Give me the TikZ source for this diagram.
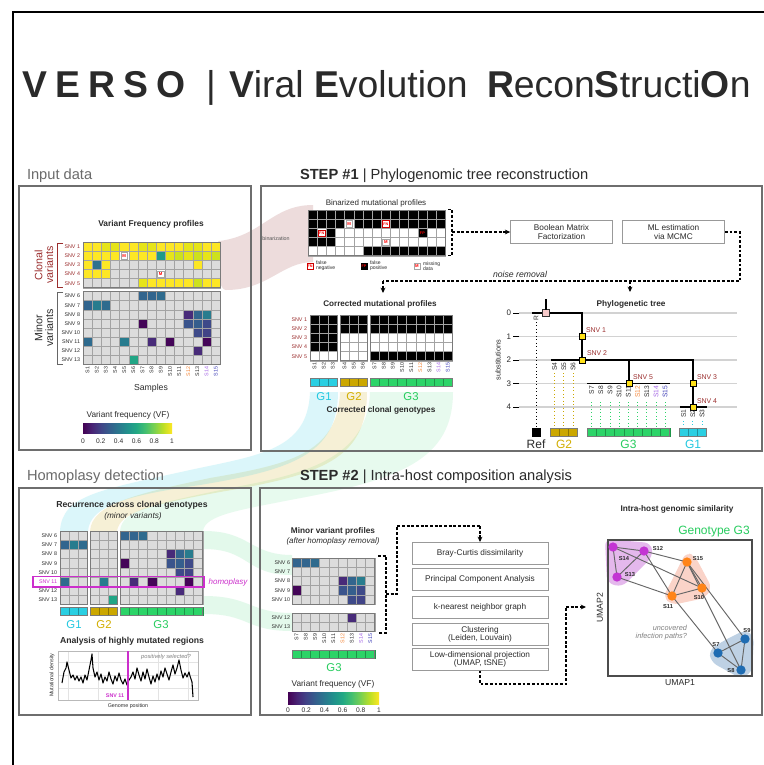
\documentclass[tikz,border=0pt]{standalone}
\usepackage{fontspec}
\setmainfont{Liberation Sans}
\usetikzlibrary{arrows.meta,calc}
\definecolor{gcell}{HTML}{DCDCDC}
\definecolor{cline}{HTML}{A3A3A3}
\definecolor{bline}{HTML}{7A7A7A}
\definecolor{pborder}{HTML}{6E6E6E}
\definecolor{snvred}{HTML}{9B2D2D}
\definecolor{txt}{HTML}{2B2B2B}
\definecolor{titlek}{HTML}{2A2A2A}
\definecolor{titlegray}{HTML}{6B6B6B}
\definecolor{Y10}{HTML}{FDE725}
\definecolor{Y9}{HTML}{E6E419}
\definecolor{Y8}{HTML}{CDE11D}
\definecolor{T55}{HTML}{1F9A8A}
\definecolor{B35}{HTML}{2C728E}
\definecolor{B33}{HTML}{2F6B8E}
\definecolor{B30}{HTML}{32658E}
\definecolor{B40}{HTML}{287C8E}
\definecolor{B28}{HTML}{355E8D}
\definecolor{B25}{HTML}{3A548C}
\definecolor{B22}{HTML}{3E4A89}
\definecolor{B20}{HTML}{414487}
\definecolor{P15}{HTML}{482B79}
\definecolor{P0}{HTML}{440558}
\definecolor{G60}{HTML}{21A585}
\definecolor{v0}{HTML}{440154}
\definecolor{v1}{HTML}{482475}
\definecolor{v2}{HTML}{414487}
\definecolor{v3}{HTML}{355F8D}
\definecolor{v4}{HTML}{2A788E}
\definecolor{v5}{HTML}{21918C}
\definecolor{v6}{HTML}{22A884}
\definecolor{v7}{HTML}{44BF70}
\definecolor{v8}{HTML}{7AD151}
\definecolor{v9}{HTML}{BDDF26}
\definecolor{v10}{HTML}{FDE725}
\definecolor{gone}{HTML}{2ACFE2}
\definecolor{gtwo}{HTML}{CBA700}
\definecolor{gthree}{HTML}{2CD468}
\definecolor{gonet}{HTML}{22C8E0}
\definecolor{gtwot}{HTML}{D2AE00}
\definecolor{gthreet}{HTML}{27CC5E}
\definecolor{sorange}{HTML}{F4873A}
\definecolor{spurple}{HTML}{A567E6}
\definecolor{sblue}{HTML}{3F3FB8}
\definecolor{umapm}{HTML}{C334D3}
\definecolor{umapo}{HTML}{FF8418}
\definecolor{umapb}{HTML}{1F6CB2}
\definecolor{hullm}{HTML}{E4B8EC}
\definecolor{hullo}{HTML}{FAD3C8}
\definecolor{hullb}{HTML}{BED1E4}
\definecolor{magline}{HTML}{CC2FCC}
\definecolor{treegrid}{HTML}{D2D2D2}
\definecolor{snvsq}{HTML}{FFE119}
\definecolor{rootsq}{HTML}{F6C9C9}
\definecolor{ribpink}{HTML}{E2C6C6}
\colorlet{K}{black}
\colorlet{W}{white}
\pgfdeclarehorizontalshading{viridis}{100bp}{color(0bp)=(v0); color(25bp)=(v0); color(30bp)=(v1); color(35bp)=(v2); color(40bp)=(v3); color(45bp)=(v4); color(50bp)=(v5); color(55bp)=(v6); color(60bp)=(v7); color(65bp)=(v8); color(70bp)=(v9); color(75bp)=(v10); color(100bp)=(v10)}
\newcommand\fsz[1]{\fontsize{#1}{#1}\selectfont}
\newcommand\hmcell[5]{\filldraw[fill=#5,draw=cline,line width=0.35pt] ({#1+(#3-1)*\cs},{#2+(#4-1)*\cs}) rectangle ++(\cs,\cs);}
\newcommand\hmgrid[5]{\foreach \ii in {1,...,#3}{\foreach \jj in {1,...,#4}{\hmcell{#1}{#2}{\ii}{\jj}{#5}}}}
\newcommand\hmframe[4]{\draw[bline,line width=0.6pt] (#1,#2) rectangle ++({#3*\cs},{#4*\cs});}
\newcommand\hmbar[4]{\foreach \ii in {1,...,#3}{\filldraw[fill=#4,draw=#4!70!black,line width=0.3pt] ({#1+(\ii-1)*\cs},#2) rectangle ++(\cs,8.5);}\draw[bline,line width=0.5pt] (#1,#2) rectangle ++({#3*\cs},8.5);}
\def\slistA{S1/txt,S2/txt,S3/txt,S4/txt,S5/txt,S6/txt,S7/txt,S8/txt,S9/txt,S10/txt,S11/txt,S12/sorange,S13/txt,S14/spurple,S15/sblue}
\def\slistG{S7/txt,S8/txt,S9/txt,S10/txt,S11/txt,S12/sorange,S13/txt,S14/spurple,S15/sblue}
\begin{document}
\begin{tikzpicture}[x=0.75pt,y=-0.75pt,
  every node/.style={inner sep=0pt,outer sep=0pt,text=txt},
  panel/.style={draw=pborder,line width=0.9pt},
  sectitle/.style={anchor=base west,font=\fsz{11}},
  subtitle/.style={font=\fsz{6.3}\bfseries},
  rowlab/.style={anchor=east,font=\fsz{4}},
  collab/.style={rotate=90,anchor=east,font=\fsz{4}},
  dashar/.style={dash pattern=on 2.2pt off 1.3pt,line width=0.8pt,draw=black},
  arrowtip/.style={-{Stealth[length=4pt,width=3.6pt]}},
  algbox/.style={draw=gray!80,line width=0.6pt,fill=white,align=center,font=\fsz{6.2}},
  snvsqr/.style={draw=black,fill=snvsq,line width=0.5pt,minimum size=4.6pt},
  glab/.style={font=\fsz{8.5}},
  cbtick/.style={font=\fsz{5}},
  mkM/.style={draw=gray!70,fill=white,text=red,font=\fsz{3.2}\bfseries,minimum size=4.6pt},
  mkFN/.style={draw=red!80!black,fill=white,text=red,font=\fsz{2.8}\bfseries,minimum size=4.6pt},
  mkFP/.style={draw=black,fill=black,text=red,font=\fsz{2.8}\bfseries,minimum size=4.6pt},
  treel/.style={black,line width=1.1pt},
  umapnode/.style={circle,minimum size=7pt},
  ulab/.style={font=\fsz{4.3}\bfseries},
  uedge/.style={draw=gray!80!black,line width=0.7pt},
]
\useasboundingbox (0,0) rectangle (764,765);
\fill[white] (0,0) rectangle (764,765);

% ---------- ribbons ----------
\fill[ribpink,opacity=0.6] (219,241) .. controls (262,236) and (272,205) .. (313,205) -- (313,262) .. controls (282,262) and (268,290) .. (226,290) .. controls (216,290) and (214,242) .. (219,241) -- cycle;
\fill[gthree,opacity=0.11] (370,392) .. controls (368,460) and (300,475) .. (230,488) .. controls (150,505) and (122,510) .. (120,531) -- (203,531) .. controls (205,515) and (240,510) .. (290,500) .. controls (400,480) and (453,460) .. (453,392) -- cycle;
\fill[gtwo,opacity=0.16] (340,392) .. controls (338,455) and (285,465) .. (210,478) .. controls (130,495) and (92,505) .. (90,531) -- (117,531) .. controls (120,512) and (150,505) .. (220,492) .. controls (320,475) and (367,460) .. (367,392) -- cycle;
\fill[gone,opacity=0.17] (310,392) .. controls (308,450) and (260,455) .. (190,470) .. controls (100,490) and (62,495) .. (60,531) -- (88,531) .. controls (90,505) and (130,495) .. (200,485) .. controls (290,470) and (338,455) .. (338,392) -- cycle;
\fill[gthree,opacity=0.13] (204,531) .. controls (250,531) and (250,555) .. (292,555) -- (292,575) .. controls (245,575) and (250,549) .. (204,549) -- cycle;
\fill[gthree,opacity=0.13] (204,596) .. controls (250,596) and (250,613) .. (292,613) -- (292,631) .. controls (245,631) and (250,614) .. (204,614) -- cycle;

% ---------- frame & panels ----------
\draw[black,line width=2pt] (13,765) -- (13,12) -- (764,12);
\draw[panel] (19,186) rectangle (251,450);
\draw[panel] (261,186) rectangle (762,451);
\draw[panel] (19,488) rectangle (251,715);
\draw[panel] (260,488) rectangle (762,715);

% ---------- title ----------
\node[anchor=base west,font=\fsz{28}\bfseries,text=titlek] (ttlA) at (22,97) {V\hskip.22em E\hskip.22em R\hskip.22em S\hskip.22em O};
\node[anchor=base west,font=\fsz{28},text=titlek] (ttlB) at (206,97) {|};
\node[anchor=base west,font=\fsz{28},text=titlek] (ttlC) at (229,97) {\textbf{V}iral \textbf{E}volution};
\node[anchor=base west,font=\fsz{28},text=titlek] (ttlD) at (487,97) {\textbf{R}econ\textbf{S}tructi\textbf{O}n};

\node[sectitle,text=titlegray] (tin) at (27,179) {Input data};
\node[sectitle] (ts1) at (300,179) {\textbf{STEP \#1} | Phylogenomic tree reconstruction};
\node[sectitle,text=titlegray] (tho) at (27,480) {Homoplasy detection};
\node[sectitle] (ts2) at (300,480) {\textbf{STEP \#2} | Intra-host composition analysis};

% ---------- Input data ----------
\node[subtitle] (vfpT) at (151,224) {Variant Frequency profiles};
\def\cs{9.15}
\foreach \row [count=\rr] in {{Y10,Y10,Y9,Y9,Y10,Y10,Y9,Y9,Y10,Y10,Y10,Y9,Y9,Y10,Y10},{Y10,Y10,Y10,Y10,W,Y10,Y10,Y10,T55,Y9,Y8,Y9,Y8,Y9,Y8},{Y10,B35,Y10,gcell,gcell,gcell,gcell,gcell,gcell,gcell,gcell,gcell,Y10,gcell,gcell},{Y10,Y10,Y10,gcell,gcell,gcell,gcell,gcell,W,gcell,gcell,gcell,gcell,gcell,gcell},{gcell,gcell,gcell,gcell,gcell,gcell,Y9,Y10,Y10,Y10,Y10,Y10,Y8,Y10,Y10}}{\foreach \cl [count=\kk] in \row {\hmcell{83}{242}{\kk}{\rr}{\cl}}}
\hmframe{83}{242}{15}{5}
\hmgrid{83}{291.5}{15}{8}{gcell}
\foreach \kk/\rr/\cl in {7/1/B30,8/1/B30,9/1/B33,1/2/B30,2/2/B40,3/2/B33,12/3/P15,13/3/B30,14/3/B40,7/4/P0,12/4/B25,13/4/B28,14/4/B22,13/5/B22,14/5/B20,1/6/B33,5/6/B40,8/6/P15,10/6/P0,14/6/P0,13/7/P15,6/8/G60}{\hmcell{83}{291.5}{\kk}{\rr}{\cl}}
\hmframe{83}{291.5}{15}{8}
\node[mkM] (imkA) at ({83+4.5*\cs},{242+1.5*\cs}) {M};
\node[mkM] (imkB) at ({83+8.5*\cs},{242+3.5*\cs}) {M};
\foreach \rr in {1,...,5}{\node[rowlab,text=snvred] (irl\rr) at (80,{242+(\rr-0.5)*\cs}) {SNV \rr};}
\foreach \rr [evaluate=\rr as \nn using int(\rr+5)] in {1,...,8}{\node[rowlab] (irm\rr) at (80,{291.5+(\rr-0.5)*\cs}) {SNV \nn};}
\foreach \s/\tc [count=\kk] in \slistA {\node[collab,text=\tc] (icl\kk) at ({83+(\kk-0.5)*\cs},367) {\s};}
\draw[snvred,line width=0.7pt] (63,243) -- (57,243) -- (57,287) -- (63,287);
\draw[gray!80!black,line width=0.7pt] (63,292) -- (57,292) -- (57,364) -- (63,364);
\node[rotate=90,align=center,font=\fsz{8},text=snvred] (clv) at (44,265) {Clonal\\variants};
\node[rotate=90,align=center,font=\fsz{8}] (mnv) at (44,328) {Minor\\variants};
\node[font=\fsz{6.5}] (smp) at (151,388) {Samples};
\node[font=\fsz{6.2}] (cbT) at (128,415) {Variant frequency (VF)};
\shade[shading=viridis] (83,423) rectangle (172,433);
\foreach \v [count=\kk from 0] in {0,0.2,0.4,0.6,0.8,1}{\node[cbtick] (icb\kk) at ({83+\kk*17.8},441) {\v};}

% ---------- STEP 1 : binarized ----------
\node[font=\fsz{6}] (binT) at (376,203) {Binarized mutational profiles};
\foreach \row [count=\rr] in {{K,K,K,K,K,K,K,K,K,K,K,K,K,K,K},{K,K,K,K,W,K,K,K,W,K,K,K,K,K,K},{K,W,K,W,W,W,W,W,W,W,W,W,K,W,W},{K,K,K,W,W,W,W,W,W,W,W,W,W,W,W},{W,W,W,W,W,W,K,K,K,K,K,K,K,K,K}}{\foreach \cl [count=\kk] in \row {\hmcell{308}{210}{\kk}{\rr}{\cl}}}
\hmframe{308}{210}{15}{5}
\node[mkM] (bmkA) at ({308+4.5*\cs},{210+1.5*\cs}) {M};
\node[mkFN] (bfnA) at ({308+8.5*\cs},{210+1.5*\cs}) {FN};
\node[mkFN] (bfnB) at ({308+1.5*\cs},{210+2.5*\cs}) {FN};
\node[mkFP] (bfpA) at ({308+12.5*\cs},{210+2.5*\cs}) {FP};
\node[mkM] (bmkB) at ({308+8.5*\cs},{210+3.5*\cs}) {M};
\node[font=\fsz{4},text=txt!80] (binz) at (276,239) {binarization};
\node[mkFN] (lgFN) at (310,266) {FN};
\node[anchor=west,align=left,font=\fsz{3.8}] (lgFNt) at (316,266) {false\\negative};
\node[mkFP] (lgFP) at (364,266) {FP};
\node[anchor=west,align=left,font=\fsz{3.8}] (lgFPt) at (370,266) {false\\positive};
\node[mkM] (lgM) at (417,266) {M};
\node[anchor=west,align=left,font=\fsz{3.8}] (lgMt) at (423,266) {missing\\data};
\draw[dashar] (448,209.5) -- (452,209.5) -- (452,255.5) -- (448,255.5);
\coordinate (bmid) at (452,232);
\node[algbox,minimum width=77pt,minimum height=17.25pt] (bmf) at (561.5,232) {Boolean Matrix\\Factorization};
\node[algbox,minimum width=77pt,minimum height=17.25pt] (mlm) at (673.5,232) {ML estimation\\via MCMC};
\draw[dashar,arrowtip] (bmid) -- (bmid -| bmf.west);
\coordinate (nrR) at (740,281);
\coordinate (nrA) at (383,281);
\coordinate (nrB) at (630,281);
\coordinate (nrAe) at (383,293);
\coordinate (nrBe) at (630,292);
\draw[dashar] (mlm.east) -| (nrR) -- (nrA);
\draw[dashar,arrowtip] (nrA) -- (nrAe);
\draw[dashar,arrowtip] (nrB) -- (nrBe);
\node[anchor=base west,font=\fsz{6.5}\itshape] (nrm) at (493,277) {noise removal};

% ---------- STEP 1 : corrected ----------
\node[subtitle,font=\fsz{6.1}\bfseries] (corT) at (380,304) {Corrected mutational profiles};
\foreach \cl [count=\rr] in {K,K,K,K,W}{\foreach \kk in {1,2,3}{\hmcell{310}{315}{\kk}{\rr}{\cl}}}
\foreach \cl [count=\rr] in {K,K,W,W,W}{\foreach \kk in {1,2,3}{\hmcell{340}{315}{\kk}{\rr}{\cl}}}
\foreach \cl [count=\rr] in {K,K,W,W,K}{\foreach \kk in {1,...,9}{\hmcell{370}{315}{\kk}{\rr}{\cl}}}
\hmframe{310}{315}{3}{5}\hmframe{340}{315}{3}{5}\hmframe{370}{315}{9}{5}
\foreach \rr in {1,...,5}{\node[rowlab,text=snvred] (crl\rr) at (307,{315+(\rr-0.5)*\cs}) {SNV \rr};}
\foreach \s [count=\kk] in {S1,S2,S3}{\node[collab] (ccA\kk) at ({310+(\kk-0.5)*\cs},363) {\s};}
\foreach \s [count=\kk] in {S4,S5,S6}{\node[collab] (ccB\kk) at ({340+(\kk-0.5)*\cs},363) {\s};}
\foreach \s/\tc [count=\kk] in \slistG {\node[collab,text=\tc] (ccC\kk) at ({370+(\kk-0.5)*\cs},363) {\s};}
\hmbar{310}{378}{3}{gone}\hmbar{340}{378}{3}{gtwo}\hmbar{370}{378}{9}{gthree}
\node[glab,text=gonet] (cg1) at (324,397) {G1};
\node[glab,text=gtwot] (cg2) at (354,397) {G2};
\node[glab,text=gthreet] (cg3) at (411,397) {G3};
\node[subtitle,font=\fsz{6.2}\bfseries] (ccgT) at (381,410) {Corrected clonal genotypes};

% ---------- STEP 1 : tree ----------
\node[subtitle,font=\fsz{6.2}\bfseries] (phT) at (631,304) {Phylogenetic tree};
\foreach \lv [count=\kk from 0] in {313,336.5,360,383.5,407}{
  \draw[treegrid,line width=1.3pt] (519,\lv) -- (737,\lv);
  \draw[black,line width=0.6pt] (513,\lv) -- (519,\lv);
  \node[anchor=east,font=\fsz{6}] (ylab\kk) at (511,\lv) {\kk};}
\node[rotate=90,font=\fsz{5.5}] (subs) at (498,360) {substitutions};
\draw[treel] (532,313) -- (582,313) -- (582,360);
\draw[treel] (551,360) -- (693,360) -- (693,407);
\draw[treel] (629,360) -- (629,383.5);
\draw[treel] (587,383.5) -- (670,383.5);
\draw[treel] (680,407) -- (707,407);
\node[draw=black!80,fill=rootsq,line width=0.5pt,minimum size=5pt] (root) at (546,313) {};
\draw[black,line width=1pt] (546,299) -- (root.north);
\node[snvsqr] (sq1) at (582,336.5) {};
\node[snvsqr] (sq2) at (582,360) {};
\node[snvsqr] (sq5) at (629,383.5) {};
\node[snvsqr] (sq3) at (693,383.5) {};
\node[snvsqr] (sq4) at (693,407) {};
\node[anchor=west,font=\fsz{5.2},text=snvred] (tl1) at (586,330) {SNV 1};
\node[anchor=west,font=\fsz{5.2},text=snvred] (tl2) at (587,353) {SNV 2};
\node[anchor=west,font=\fsz{5.2},text=snvred] (tl5) at (633,377) {SNV 5};
\node[anchor=west,font=\fsz{5.2},text=snvred] (tl3) at (697,377) {SNV 3};
\node[anchor=west,font=\fsz{5.2},text=snvred] (tl4) at (697,401) {SNV 4};
\node[collab,font=\fsz{5}] (lR) at (536,316) {R};
\draw[black,dotted,line width=0.6pt] (536,322) -- (536,428);
\foreach \s [count=\kk] in {S4,S5,S6}{\node[collab,font=\fsz{5}] (lB\kk) at ({550+(\kk-0.5)*9.2},362.5) {\s};
  \draw[gtwo,dotted,line width=0.6pt] ({550+(\kk-0.5)*9.2},373) -- ({550+(\kk-0.5)*9.2},428);}
\foreach \s/\tc [count=\kk] in \slistG {\node[collab,font=\fsz{5},text=\tc] (lC\kk) at ({587+(\kk-0.5)*9.2},386) {\s};
  \draw[gthree,dotted,line width=0.6pt] ({587+(\kk-0.5)*9.2},402) -- ({587+(\kk-0.5)*9.2},428);}
\foreach \s [count=\kk] in {S1,S2,S3}{\node[collab,font=\fsz{5}] (lA\kk) at ({679+(\kk-0.5)*9.2},409.5) {\s};
  \draw[gone,dotted,line width=0.6pt] ({679+(\kk-0.5)*9.2},421) -- ({679+(\kk-0.5)*9.2},428);}
\def\cs{9.2}
\fill[black] (532,428) rectangle (540.5,436.5);
\hmbar{550}{428}{3}{gtwo}\hmbar{587}{428}{9}{gthree}\hmbar{679}{428}{3}{gone}
\node[font=\fsz{9}] (tRef) at (536,444) {Ref};
\node[font=\fsz{9},text=gtwot] (tG2) at (564,444) {G2};
\node[font=\fsz{9},text=gthreet] (tG3) at (628.5,444) {G3};
\node[font=\fsz{9},text=gonet] (tG1) at (693,444) {G1};

% ---------- Homoplasy ----------
\node[subtitle,font=\fsz{6.5}\bfseries] (recT) at (132,505) {Recurrence across clonal genotypes};
\node[font=\fsz{6.2}\itshape] (recS) at (133,516) {(minor variants)};
\hmgrid{60}{531}{3}{8}{gcell}\hmgrid{90}{531}{3}{8}{gcell}\hmgrid{120}{531}{9}{8}{gcell}
\foreach \kk/\rr/\cl in {1/2/B30,2/2/B40,3/2/B33,1/6/B33}{\hmcell{60}{531}{\kk}{\rr}{\cl}}
\foreach \kk/\rr/\cl in {2/6/B40,3/8/G60}{\hmcell{90}{531}{\kk}{\rr}{\cl}}
\foreach \kk/\rr/\cl in {1/1/B30,2/1/B30,3/1/B33,6/3/P15,7/3/B30,8/3/B40,1/4/P0,6/4/B25,7/4/B28,8/4/B22,7/5/B22,8/5/B20,2/6/P15,4/6/P0,8/6/P0,7/7/P15}{\hmcell{120}{531}{\kk}{\rr}{\cl}}
\hmframe{60}{531}{3}{8}\hmframe{90}{531}{3}{8}\hmframe{120}{531}{9}{8}
\foreach \nn/\tc [count=\rr] in {6/txt,7/txt,8/txt,9/txt,10/txt,11/magline,12/txt,13/txt}{\node[rowlab,text=\tc] (hrl\rr) at (57,{531+(\rr-0.5)*\cs}) {SNV \nn};}
\draw[magline,line width=1pt] (33,576.5) rectangle (204,587);
\node[font=\fsz{6}\itshape,text=magline] (hmp) at (228,582) {homoplasy};
\hmbar{60}{607}{3}{gone}\hmbar{90}{607}{3}{gtwo}\hmbar{120}{607}{9}{gthree}
\node[glab,text=gonet] (hg1) at (74,625) {G1};
\node[glab,text=gtwot] (hg2) at (104,625) {G2};
\node[glab,text=gthreet] (hg3) at (161,625) {G3};
\node[subtitle,font=\fsz{6.5}\bfseries] (anT) at (132,641) {Analysis of highly mutated regions};
\foreach \gx in {68,98,128,158,188}{\draw[gray!22,line width=0.4pt] (\gx,651) -- (\gx,700);}
\foreach \gy in {662,675,688}{\draw[gray!22,line width=0.4pt] (58,\gy) -- (198,\gy);}
\draw[gray!55,line width=0.5pt] (58,651) rectangle (198,700);
\draw[black,line width=0.8pt,line join=round] plot coordinates {(62,683) (64,672) (66,668) (67,662) (69,670) (71,678) (73,675) (75,680) (77,676) (79,681) (81,677) (83,683) (85,675) (87,680) (89,670) (91,660) (92,654) (93,668) (95,677) (97,672) (99,680) (101,674) (103,683) (105,677) (107,681) (109,672) (111,679) (113,684) (115,676) (117,681) (119,673) (121,680) (123,684) (125,679) (127,685) (129,680) (131,677) (133,672) (135,679) (137,668) (139,675) (141,681) (143,672) (145,679) (147,669) (149,677) (151,684) (153,676) (155,682) (157,674) (159,680) (161,671) (163,677) (165,668) (167,674) (169,680) (171,672) (173,665) (175,674) (177,668) (179,660) (181,670) (183,678) (185,673) (187,677) (189,672) (190,676) (192,682) (193,697)};
\draw[magline,line width=0.9pt] (128,651) -- (128,700);
\node[rotate=90,font=\fsz{4}] (mdl) at (52,675) {Mutational density};
\node[font=\fsz{4}] (gpl) at (128,706) {Genome position};
\node[font=\fsz{4}\bfseries,text=magline] (s11l) at (115,696) {SNV 11};
\node[font=\fsz{4.3}\itshape,text=gray] (psl) at (166,657) {positively selected?};

% ---------- STEP 2 ----------
\node[subtitle,font=\fsz{6.2}\bfseries] (mvT) at (333,531) {Minor variant profiles};
\node[font=\fsz{6}\itshape] (mvS) at (333,541) {(after homoplasy removal)};
\hmgrid{292}{558}{9}{5}{gcell}\hmgrid{292}{613}{9}{2}{gcell}
\foreach \kk/\rr/\cl in {1/1/B30,2/1/B30,3/1/B33,6/3/P15,7/3/B30,8/3/B40,1/4/P0,6/4/B25,7/4/B28,8/4/B22,7/5/B22,8/5/B20}{\hmcell{292}{558}{\kk}{\rr}{\cl}}
\hmcell{292}{613}{7}{1}{P15}
\hmframe{292}{558}{9}{5}\hmframe{292}{613}{9}{2}
\foreach \nn [count=\rr] in {6,7,8,9,10}{\node[rowlab] (srl\rr) at (290,{558+(\rr-0.5)*\cs}) {SNV \nn};}
\foreach \nn [count=\rr] in {12,13}{\node[rowlab] (srm\rr) at (290,{613+(\rr-0.5)*\cs}) {SNV \nn};}
\foreach \s/\tc [count=\kk] in \slistG {\node[collab,text=\tc] (scl\kk) at ({292+(\kk-0.5)*\cs},634) {\s};}
\hmbar{292}{650}{9}{gthree}
\node[glab,text=gthreet] (sg3) at (334,668) {G3};
\node[font=\fsz{6.2}] (scbT) at (333,684) {Variant frequency (VF)};
\shade[shading=viridis] (288,692) rectangle (379,704);
\foreach \v [count=\kk from 0] in {0,0.2,0.4,0.6,0.8,1}{\node[cbtick] (scb\kk) at ({288+\kk*18.2},710) {\v};}
\draw[dashar] (378,556) -- (386,556) -- (386,633) -- (378,633);
\node[algbox,minimum width=102pt,minimum height=16.5pt] (bcd) at (480,553) {Bray-Curtis dissimilarity};
\node[algbox,minimum width=102pt,minimum height=16.5pt] (pca) at (480,579.5) {Principal Component Analysis};
\node[algbox,minimum width=102pt,minimum height=16.5pt] (knn) at (480,607) {k-nearest neighbor graph};
\node[algbox,minimum width=102pt,minimum height=16.5pt] (clu) at (480,634) {Clustering\\(Leiden, Louvain)};
\node[algbox,minimum width=102pt,minimum height=16.5pt] (ldp) at (480,659.5) {Low-dimensional projection\\(UMAP, tSNE)};
\coordinate (brm) at (386,594);
\coordinate (brA) at (397,594);
\coordinate (brB) at (397,526);
\coordinate (brC) at (480,526);
\draw[dashar] (brm) -- (brA) -- (brB) -- (brC);
\draw[dashar,arrowtip] (brC) -- (bcd.north);
\coordinate (ldA) at (480,684);
\coordinate (ldB) at (566,684);
\coordinate (ldC) at (566,607);
\coordinate (ldD) at (586,607);
\draw[dashar] (ldp.south) -- (ldA) -- (ldB) -- (ldC);
\draw[dashar,arrowtip] (ldC) -- (ldD);

% ---------- UMAP ----------
\node[subtitle,font=\fsz{6.2}\bfseries] (umT) at (677,509) {Intra-host genomic similarity};
\node[font=\fsz{9},text=gthreet] (umG) at (714,532) {Genotype G3};
\fill[hullm,rounded corners=5pt] (605,539) -- (651,543) -- (653,556) -- (622,587) -- (607,583) -- cycle;
\fill[hullo,rounded corners=5pt] (686,552) -- (695,556) -- (712,588) -- (705,598) -- (672,605) -- (663,597) -- (668,588) -- cycle;
\fill[hullb,rounded corners=5pt] (745,630) -- (754,636) -- (752,673) -- (740,678) -- (711,662) -- (709,650) -- (725,640) -- cycle;
\draw[gray!60!black,line width=0.8pt] (608,540) rectangle (752,676);
\coordinate (uS14) at (613,547);
\coordinate (uS12) at (644,551);
\coordinate (uS13) at (617,577);
\coordinate (uS15) at (687,562);
\coordinate (uS10) at (702,588);
\coordinate (uS11) at (672,596);
\coordinate (uS9) at (745,639);
\coordinate (uS7) at (718,653);
\coordinate (uS8) at (741,670);
\foreach \a/\b in {S14/S12,S14/S13,S12/S13,S14/S10,S12/S15,S12/S11,S13/S11,S15/S11,S15/S10,S11/S10,S15/S9,S15/S8,S11/S7,S7/S9,S7/S8,S9/S8}{\draw[uedge] (u\a) -- (u\b);}
\foreach \p in {S14,S12,S13}{\node[umapnode,fill=umapm] (n\p) at (u\p) {};}
\foreach \p in {S15,S10,S11}{\node[umapnode,fill=umapo] (n\p) at (u\p) {};}
\foreach \p in {S9,S7,S8}{\node[umapnode,fill=umapb] (n\p) at (u\p) {};}
\node[ulab] (lS14) at (624,559) {S14};
\node[ulab] (lS12) at (658,549) {S12};
\node[ulab] (lS13) at (630,575) {S13};
\node[ulab] (lS15) at (698,559) {S15};
\node[ulab] (lS10) at (699,598) {S10};
\node[ulab] (lS11) at (668,607) {S11};
\node[ulab] (lS9) at (747,631) {S9};
\node[ulab] (lS7) at (716,645) {S7};
\node[ulab] (lS8) at (731,671) {S8};
\node[anchor=east,align=right,font=\fsz{5.5}\itshape,text=gray] (unc) at (687,632.5) {uncovered\\infection paths?};
\node[rotate=90,font=\fsz{6.5}] (um2) at (600,608) {UMAP2};
\node[font=\fsz{6.5}] (um1) at (680,683) {UMAP1};
\end{tikzpicture}
\end{document}
